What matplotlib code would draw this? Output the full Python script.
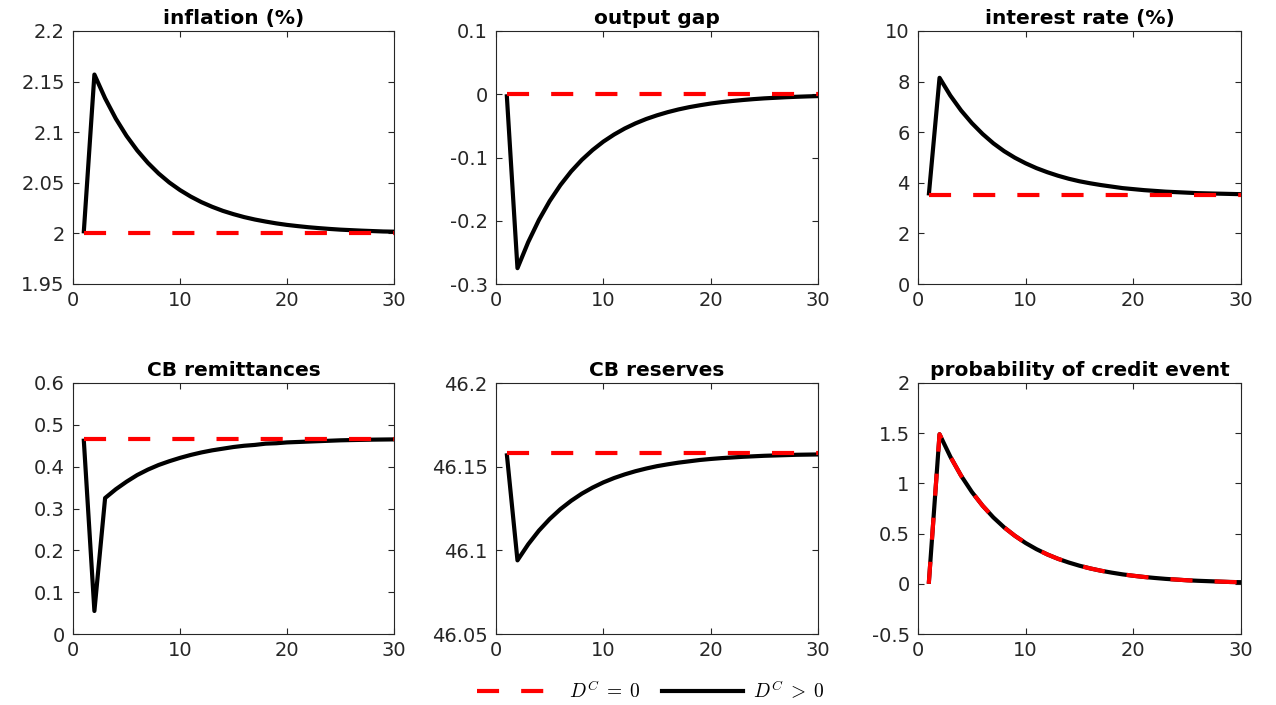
import matplotlib
matplotlib.use("Agg")
import matplotlib.pyplot as plt
from matplotlib.ticker import FuncFormatter, FixedLocator
from matplotlib.lines import Line2D

# ---------------- data ----------------
periods = list(range(1, 31))

titles = ["inflation (%)", "output gap", "interest rate (%)",
          "CB remittances", "CB reserves", "probability of credit event"]

inflation_pos = [2.000, 2.157, 2.1335, 2.1134, 2.0964, 2.0820, 2.0697, 2.0592, 2.0503, 2.0428,
                 2.0364, 2.0309, 2.0263, 2.0223, 2.0190, 2.0161, 2.0137, 2.0117, 2.0099, 2.0084,
                 2.0072, 2.0061, 2.0052, 2.0044, 2.0037, 2.0032, 2.0027, 2.0023, 2.0019, 2.0017]
inflation_zero = [2.0] * 30

outgap_pos = [0.0, -0.275, -0.2338, -0.1987, -0.1689, -0.1436, -0.1220, -0.1037, -0.0882, -0.0749,
              -0.0637, -0.0541, -0.0460, -0.0391, -0.0333, -0.0283, -0.0240, -0.0204, -0.0174, -0.0147,
              -0.0125, -0.0107, -0.0091, -0.0077, -0.0065, -0.0056, -0.0047, -0.0040, -0.0034, -0.0029]
outgap_zero = [0.0] * 30

rate_pos = [3.50, 8.15, 7.45, 6.86, 6.36, 5.93, 5.56, 5.25, 4.99, 4.77,
            4.58, 4.42, 4.28, 4.16, 4.06, 3.98, 3.91, 3.85, 3.79, 3.75,
            3.71, 3.68, 3.65, 3.63, 3.61, 3.59, 3.58, 3.57, 3.56, 3.55]
rate_zero = [3.5] * 30

remit_pos = [0.467, 0.055, 0.325, 0.346, 0.364, 0.380, 0.393, 0.404, 0.413, 0.421,
             0.428, 0.434, 0.439, 0.443, 0.447, 0.450, 0.452, 0.455, 0.456, 0.458,
             0.459, 0.460, 0.461, 0.462, 0.463, 0.4636, 0.4641, 0.4646, 0.4649, 0.4652]
remit_zero = [0.467] * 30

reserves_pos = [46.158, 46.094, 46.1036, 46.1118, 46.1187, 46.1246, 46.1296, 46.1339, 46.1375, 46.1406,
                46.1432, 46.1454, 46.1473, 46.1489, 46.1503, 46.1514, 46.1524, 46.1532, 46.1540, 46.1546,
                46.1551, 46.1555, 46.1559, 46.1562, 46.1565, 46.1567, 46.1569, 46.1571, 46.1572, 46.1573]
reserves_zero = [46.158] * 30

prob_pos = [0.0, 1.49, 1.267, 1.077, 0.915, 0.778, 0.661, 0.562, 0.478, 0.406,
            0.345, 0.293, 0.249, 0.212, 0.180, 0.153, 0.130, 0.111, 0.094, 0.080,
            0.068, 0.058, 0.049, 0.042, 0.035, 0.030, 0.026, 0.022, 0.018, 0.016]
prob_zero = [0.0, 1.49, 1.267, 1.077, 0.915, 0.778, 0.661, 0.562, 0.478, 0.406,
             0.345, 0.293, 0.249, 0.212, 0.180, 0.153, 0.130, 0.111, 0.094, 0.080,
             0.068, 0.058, 0.049, 0.042, 0.035, 0.030, 0.026, 0.022, 0.018, 0.016]

series_pos = [inflation_pos, outgap_pos, rate_pos, remit_pos, reserves_pos, prob_pos]
series_zero = [inflation_zero, outgap_zero, rate_zero, remit_zero, reserves_zero, prob_zero]

yticks = [[1.95, 2.0, 2.05, 2.1, 2.15, 2.2],
          [-0.3, -0.2, -0.1, 0.0, 0.1],
          [0, 2, 4, 6, 8, 10],
          [0, 0.1, 0.2, 0.3, 0.4, 0.5, 0.6],
          [46.05, 46.1, 46.15, 46.2],
          [-0.5, 0, 0.5, 1, 1.5, 2]]
xticks = [0, 10, 20, 30]

legend_labels = [r"$D^C\;=\;0$", r"$D^C\;>\;0$"]

# ---------------- style ----------------
plt.rcParams["font.family"] = ["DejaVu Sans"]
plt.rcParams["mathtext.fontset"] = "cm"

fig = plt.figure(figsize=(12.76, 7.05), dpi=100)

W, H = 1276.0, 705.0
col_left = [73, 496, 918]
col_width = [321, 322, 323]
row_top = [31, 383]
row_height = [253, 251]

AX_COLOR = "#262626"
LW = 3.0
dash = (5.3, 5.3)

fmt = FuncFormatter(lambda v, p: f"{round(v, 4):g}")

for i in range(6):
    r, c = divmod(i, 3)
    left = col_left[c] / W
    bottom = 1 - (row_top[r] + row_height[r]) / H
    ax = fig.add_axes([left, bottom, col_width[c] / W, row_height[r] / H])
    ax.plot(periods, series_pos[i], color="black", lw=LW, solid_joinstyle="round",
            solid_capstyle="butt", zorder=3)
    ax.plot(periods, series_zero[i], color="red", lw=LW, dashes=dash,
            dash_capstyle="butt", zorder=4)
    ax.set_xlim(0, 30)
    ax.set_ylim(yticks[i][0], yticks[i][-1])
    ax.xaxis.set_major_locator(FixedLocator(xticks))
    ax.yaxis.set_major_locator(FixedLocator(yticks[i]))
    ax.xaxis.set_major_formatter(fmt)
    ax.yaxis.set_major_formatter(fmt)
    ax.tick_params(direction="in", length=4, width=0.8, colors=AX_COLOR,
                   labelsize=14, top=True, right=True, pad=6)
    ax.tick_params(axis="x", pad=5)
    for sp in ax.spines.values():
        sp.set_color(AX_COLOR)
        sp.set_linewidth(0.8)
    ax.set_title(titles[i], fontsize=14.5, fontweight="bold", pad=5)

handles = [Line2D([], [], color="red", lw=LW, dashes=dash, dash_capstyle="butt"),
           Line2D([], [], color="black", lw=LW)]
fig.legend(handles, legend_labels, loc="center", ncol=2, frameon=False,
           bbox_to_anchor=(651 / W, 1 - 691 / H), fontsize=14,
           handlelength=4.2, handletextpad=0.5, columnspacing=1.1)

fig.savefig("out.png", dpi=100)
